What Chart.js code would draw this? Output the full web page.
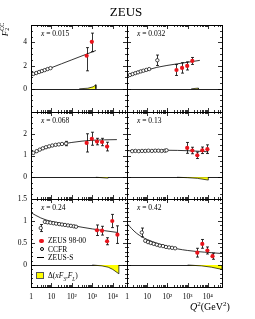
<!DOCTYPE html>
<html>
<head>
<meta charset="utf-8">
<script src="https://cdn.jsdelivr.net/npm/chart.js@4.4.1/dist/chart.umd.min.js"></script>
<style>
  body { margin: 0; background: #fff; }
  #wrap { position: relative; width: 255px; height: 319px; font-family: "Liberation Serif", serif; color: #000; }
  #wrap canvas { position: absolute; left: 0; top: 0; }
  .t { position: absolute; white-space: nowrap; line-height: 1; }
  .t sub, .t sup { font-size: 70%; line-height: 0; }
  .mk { position: absolute; box-sizing: border-box; }
</style>
</head>
<body>
<div id="wrap">
  <canvas id="c0" width="255" height="319"></canvas>
  <canvas id="c1" width="255" height="319"></canvas>
  <canvas id="c2" width="255" height="319"></canvas>
  <canvas id="c3" width="255" height="319"></canvas>
  <canvas id="c4" width="255" height="319"></canvas>
  <canvas id="c5" width="255" height="319"></canvas>

  <div class="t" style="left:0; width:252px; text-align:center; top:5px; font-size:13px;">ZEUS</div>
  <div class="t" style="left:-1px; top:24px; font-size:9px; transform:rotate(-90deg);"><i>F</i><span style="display:inline-block; vertical-align:-2px; font-size:6px; line-height:0.9;"><span style="display:block">CC</span><span style="display:block">2</span></span></div>
  <div class="t" style="left:190px; top:302px; font-size:10px;"><i>Q</i><sup>2</sup>(GeV<sup>2</sup>)</div>

  <!-- legend -->
  <div class="mk" style="left:39px; top:238.5px; width:4.5px; height:4.5px; border-radius:50%; background:#e8141c;"></div>
  <div class="t" style="left:48px; top:237px; font-size:7.5px;">ZEUS 98-00</div>
  <div class="mk" style="left:39.5px; top:247px; width:4px; height:4px; border-radius:50%; border:0.7px solid #000;"></div>
  <div class="t" style="left:48px; top:245.5px; font-size:7.5px;">CCFR</div>
  <div class="mk" style="left:37px; top:256.5px; width:7px; height:1px; background:#000;"></div>
  <div class="t" style="left:48px; top:253.5px; font-size:7.5px;">ZEUS-S</div>
  <div class="mk" style="left:36px; top:272px; width:8px; height:7px; background:#ffff00; border:0.6px solid #555;"></div>
  <div class="t" style="left:48px; top:272px; font-size:7.5px;">Δ(<i>xF</i><sub>3</sub>,<i>F</i><sub><i>L</i></sub>)</div>
</div>

<script>
// one entry per panel, in reading order
const xBjorken = ['0.015', '0.032', '0.068', '0.13', '0.24', '0.42'];

const qTicks = [1, 10, 100, 1000, 10000];
const qTickLabels = ['1', '10', '10²', '10³', '10⁴'];
const yTicksRow = [[0, 2, 4], [0, 1, 2], [0, 0.5, 1, 1.5]];

// ZEUS 98-00
const zeusQ2 = [
  [530, 950],
  [280, 530, 950, 1700],
  [530, 950, 1700, 3000, 5300],
  [950, 1700, 3000, 5300, 9500],
  [1700, 3000, 5300, 9500, 17000],
  [3000, 5300, 9500, 17000]
];
const zeusF2 = [
  [2.85, 4.05],
  [1.62, 1.8, 1.97, 2.4],
  [1.58, 1.77, 1.64, 1.62, 1.41],
  [1.35, 1.23, 1.01, 1.24, 1.29],
  [0.79, 0.78, 0.54, 1.0, 0.69],
  [0.28, 0.48, 0.33, 0.2]
];
const zeusErrUp = [
  [0.7, 0.75],
  [0.47, 0.45, 0.35, 0.3],
  [0.42, 0.3, 0.15, 0.17, 0.2],
  [0.25, 0.15, 0.15, 0.15, 0.2],
  [0.12, 0.1, 0.08, 0.15, 0.2],
  [0.1, 0.1, 0.08, 0.07]
];
const zeusErrDn = [
  [1.3, 0.85],
  [0.47, 0.45, 0.35, 0.3],
  [0.42, 0.3, 0.15, 0.17, 0.2],
  [0.25, 0.15, 0.15, 0.15, 0.2],
  [0.12, 0.1, 0.08, 0.15, 0.2],
  [0.1, 0.1, 0.08, 0.07]
];

// CCFR
const ccfrQ2 = [
  [1.3, 1.8, 2.5, 3.4, 4.7, 6.5, 9],
  [1.4, 1.9, 2.6, 3.5, 4.8, 6.5, 9, 12.5],
  [1.3, 1.9, 2.7, 3.8, 5.4, 7.7, 11, 16, 23, 33],
  [1.8, 2.6, 3.8, 5.5, 8, 11.5, 17, 25, 36, 52, 75, 90],
  [4.8, 6.5, 9, 12.5, 17, 24, 33, 46, 65, 90, 125, 160],
  [8, 11, 15, 21, 30, 42, 60, 85, 120, 170, 240]
];
const ccfrF2 = [
  [1.28, 1.36, 1.45, 1.53, 1.61, 1.7, 1.78],
  [1.19, 1.27, 1.35, 1.42, 1.5, 1.56, 1.63, 1.7],
  [1.12, 1.2, 1.27, 1.33, 1.38, 1.42, 1.46, 1.49, 1.51, 1.53],
  [1.2, 1.21, 1.2, 1.21, 1.21, 1.22, 1.21, 1.22, 1.22, 1.21, 1.22, 1.24],
  [0.98, 0.97, 0.96, 0.95, 0.94, 0.93, 0.92, 0.91, 0.9, 0.89, 0.88, 0.87],
  [0.55, 0.52, 0.5, 0.48, 0.46, 0.44, 0.43, 0.41, 0.4, 0.39, 0.38]
];
// CCFR points drawn with an error bar
const ccfrErrQ2 = [[], [31.6], [52], [], [3], [5.4]];
const ccfrErrF2 = [[], [2.46], [1.55], [], [0.84], [0.74]];
const ccfrErr = [[], [0.45], [0.1], [], [0.08], [0.1]];

// ZEUS-S fit
const fitQ2 = [
  [1, 10, 100, 1000, 1500],
  [1, 10, 30, 300, 4000],
  [1, 10, 100, 1000, 16000],
  [1, 100, 1000, 10500],
  [1, 3, 10, 100, 1000, 17000],
  [1, 3, 10, 100, 1000, 50000]
];
const fitF2 = [
  [1.14, 1.82, 2.5, 3.18, 3.3],
  [1.08, 1.6, 1.85, 2.15, 2.45],
  [1.08, 1.42, 1.6, 1.7, 1.73],
  [1.22, 1.24, 1.22, 1.17],
  [1.19, 1.07, 0.99, 0.9, 0.82, 0.74],
  [0.94, 0.72, 0.58, 0.42, 0.33, 0.26]
];

// Delta(xF3, FL) band
const bandQ2 = [
  [230, 600, 1100, 1500, 1500],
  [1500, 3400, 3400],
  [1500, 6000, 6000],
  [300, 1000, 3000, 10500, 10500],
  [1000, 3000, 6000, 10000, 20000, 20000],
  [1000, 5000, 15000, 50000, 50000]
];
const bandD = [
  [0, 0.05, 0.17, 0.35, 0],
  [0, 0.06, 0],
  [0, -0.04, 0],
  [0, -0.02, -0.05, -0.13, 0],
  [0, -0.02, -0.05, -0.1, -0.2, 0],
  [0, -0.02, -0.05, -0.1, 0]
];

// panel geometry
const colX = [[31, 127], [127, 222]];
const rowY = [[25, 112], [112, 199], [199, 287]];
const rowRange = [[-2, 5.5], [-1, 3], [-0.5, 1.5]];
const rowStep = [[2, 0.5], [1, 0.25], [0.5, 0.1]];
const FONT = '"Liberation Serif", serif';

function pts(xs, ys) {
  return xs.map((x, i) => ({ x: x, y: ys[i] }));
}

const errorBars = {
  id: 'errorBars',
  beforeDatasetsDraw(chart) {
    const ctx = chart.ctx, y = chart.scales.y;
    ctx.save();
    ctx.strokeStyle = '#000';
    ctx.lineWidth = 0.8;
    chart.data.datasets.forEach((ds, i) => {
      if (!ds.errUp) return;
      chart.getDatasetMeta(i).data.forEach((el, j) => {
        const v = ds.data[j].y;
        const top = y.getPixelForValue(v + ds.errUp[j]);
        const bot = y.getPixelForValue(v - ds.errDn[j]);
        const px = Math.round(el.x) + 0.5;
        ctx.beginPath();
        ctx.moveTo(px, top); ctx.lineTo(px, bot);
        ctx.moveTo(px - 1.5, top); ctx.lineTo(px + 1.5, top);
        ctx.moveTo(px - 1.5, bot); ctx.lineTo(px + 1.5, bot);
        ctx.stroke();
      });
    });
    ctx.restore();
  }
};

const frame = {
  id: 'frame',
  beforeDatasetsDraw(chart) {
    const { ctx, chartArea: a, scales: { y } } = chart;
    const py = Math.round(y.getPixelForValue(0)) + 0.5;
    ctx.save();
    ctx.strokeStyle = '#222';
    ctx.lineWidth = 1;
    ctx.beginPath();
    ctx.moveTo(a.left, py); ctx.lineTo(a.right, py);
    ctx.stroke();
    ctx.restore();
  },
  afterDatasetsDraw(chart, args, opts) {
    const { ctx, chartArea: a, scales: { x, y } } = chart;
    ctx.save();
    ctx.strokeStyle = '#000';
    ctx.lineWidth = 1;
    ctx.strokeRect(a.left + 0.5, a.top + 0.5, a.right - a.left, a.bottom - a.top);
    ctx.lineWidth = 0.8;
    ctx.beginPath();
    for (let d = 0; d <= 4; d++) {
      for (let m = 1; m <= 9; m++) {
        const v = m * Math.pow(10, d);
        if (v >= x.max) break;
        if (v <= x.min) continue;
        const px = Math.round(x.getPixelForValue(v)) + 0.5;
        const len = m === 1 ? 4 : 2;
        ctx.moveTo(px, a.bottom); ctx.lineTo(px, a.bottom - len);
        ctx.moveTo(px, a.top); ctx.lineTo(px, a.top + len);
      }
    }
    const [major, minor] = opts.step;
    const n = Math.round((y.max - y.min) / minor);
    for (let k = 1; k < n; k++) {
      const v = y.min + k * minor;
      const isMajor = Math.abs(v / major - Math.round(v / major)) < 1e-6;
      const py = Math.round(y.getPixelForValue(v)) + 0.5;
      const len = isMajor ? 4 : 2;
      ctx.moveTo(a.left, py); ctx.lineTo(a.left + len, py);
      ctx.moveTo(a.right, py); ctx.lineTo(a.right - len, py);
    }
    ctx.stroke();

    // panel label
    ctx.fillStyle = '#000';
    ctx.textBaseline = 'alphabetic';
    ctx.font = 'italic 7.5px ' + FONT;
    const lx = a.left + 10, ly = a.top + 11;
    ctx.fillText('x', lx, ly);
    const w = ctx.measureText('x').width;
    ctx.font = '7.5px ' + FONT;
    ctx.fillText(' = ' + opts.label, lx + w, ly);
    ctx.restore();
  }
};

for (let i = 0; i < 6; i++) {
  const col = i % 2, row = Math.floor(i / 2);
  const showY = col === 0, showX = row === 2;
  const Y_W = 20, X_H = 14;
  const [L, R] = colX[col], [T, B] = rowY[row];

  new Chart(document.getElementById('c' + i), {
    type: 'scatter',
    data: {
      datasets: [
        {
          data: pts(zeusQ2[i], zeusF2[i]),
          errUp: zeusErrUp[i], errDn: zeusErrDn[i],
          pointRadius: 2.1, backgroundColor: '#e8141c', borderColor: '#e8141c', borderWidth: 0
        },
        {
          data: pts(ccfrErrQ2[i], ccfrErrF2[i]),
          errUp: ccfrErr[i], errDn: ccfrErr[i],
          pointRadius: 1.7, backgroundColor: '#fff', borderColor: '#000', borderWidth: 0.7
        },
        {
          data: pts(ccfrQ2[i], ccfrF2[i]),
          pointRadius: 1.7, backgroundColor: '#fff', borderColor: '#000', borderWidth: 0.7
        },
        {
          type: 'line',
          data: pts(fitQ2[i], fitF2[i]),
          borderColor: '#000', borderWidth: 0.8, pointRadius: 0, tension: 0.35, fill: false
        },
        {
          type: 'line',
          data: pts(bandQ2[i], bandD[i]),
          borderColor: '#000', borderWidth: 0.7, backgroundColor: '#ffff00',
          pointRadius: 0, tension: 0, fill: 'origin'
        }
      ]
    },
    options: {
      responsive: false,
      animation: false,
      events: [],
      layout: {
        padding: {
          left: showY ? L - Y_W : L,
          right: 255 - R,
          top: T,
          bottom: showX ? 319 - B - X_H : 319 - B
        }
      },
      plugins: {
        legend: { display: false },
        tooltip: { enabled: false },
        frame: { step: rowStep[row], label: xBjorken[i] }
      },
      scales: {
        x: {
          type: 'logarithmic',
          min: 1, max: 50000,
          display: showX,
          grid: { display: false, drawTicks: false },
          border: { display: false },
          afterBuildTicks: s => { s.ticks = qTicks.map(v => ({ value: v })); },
          afterFit: s => { s.height = showX ? X_H : 0; },
          ticks: {
            autoSkip: false, maxRotation: 0, padding: 6, color: '#000',
            font: { family: FONT, size: 7.5 },
            callback: (v, idx) => qTickLabels[idx]
          }
        },
        y: {
          type: 'linear',
          min: rowRange[row][0], max: rowRange[row][1],
          display: showY,
          grid: { display: false, drawTicks: false },
          border: { display: false },
          afterBuildTicks: s => { s.ticks = yTicksRow[row].map(v => ({ value: v })); },
          afterFit: s => { s.width = showY ? Y_W : 0; },
          ticks: {
            autoSkip: false, padding: 4, color: '#000',
            font: { family: FONT, size: 7.5 },
            callback: v => String(v)
          }
        }
      }
    },
    plugins: [errorBars, frame]
  });
}
</script>
</body>
</html>
